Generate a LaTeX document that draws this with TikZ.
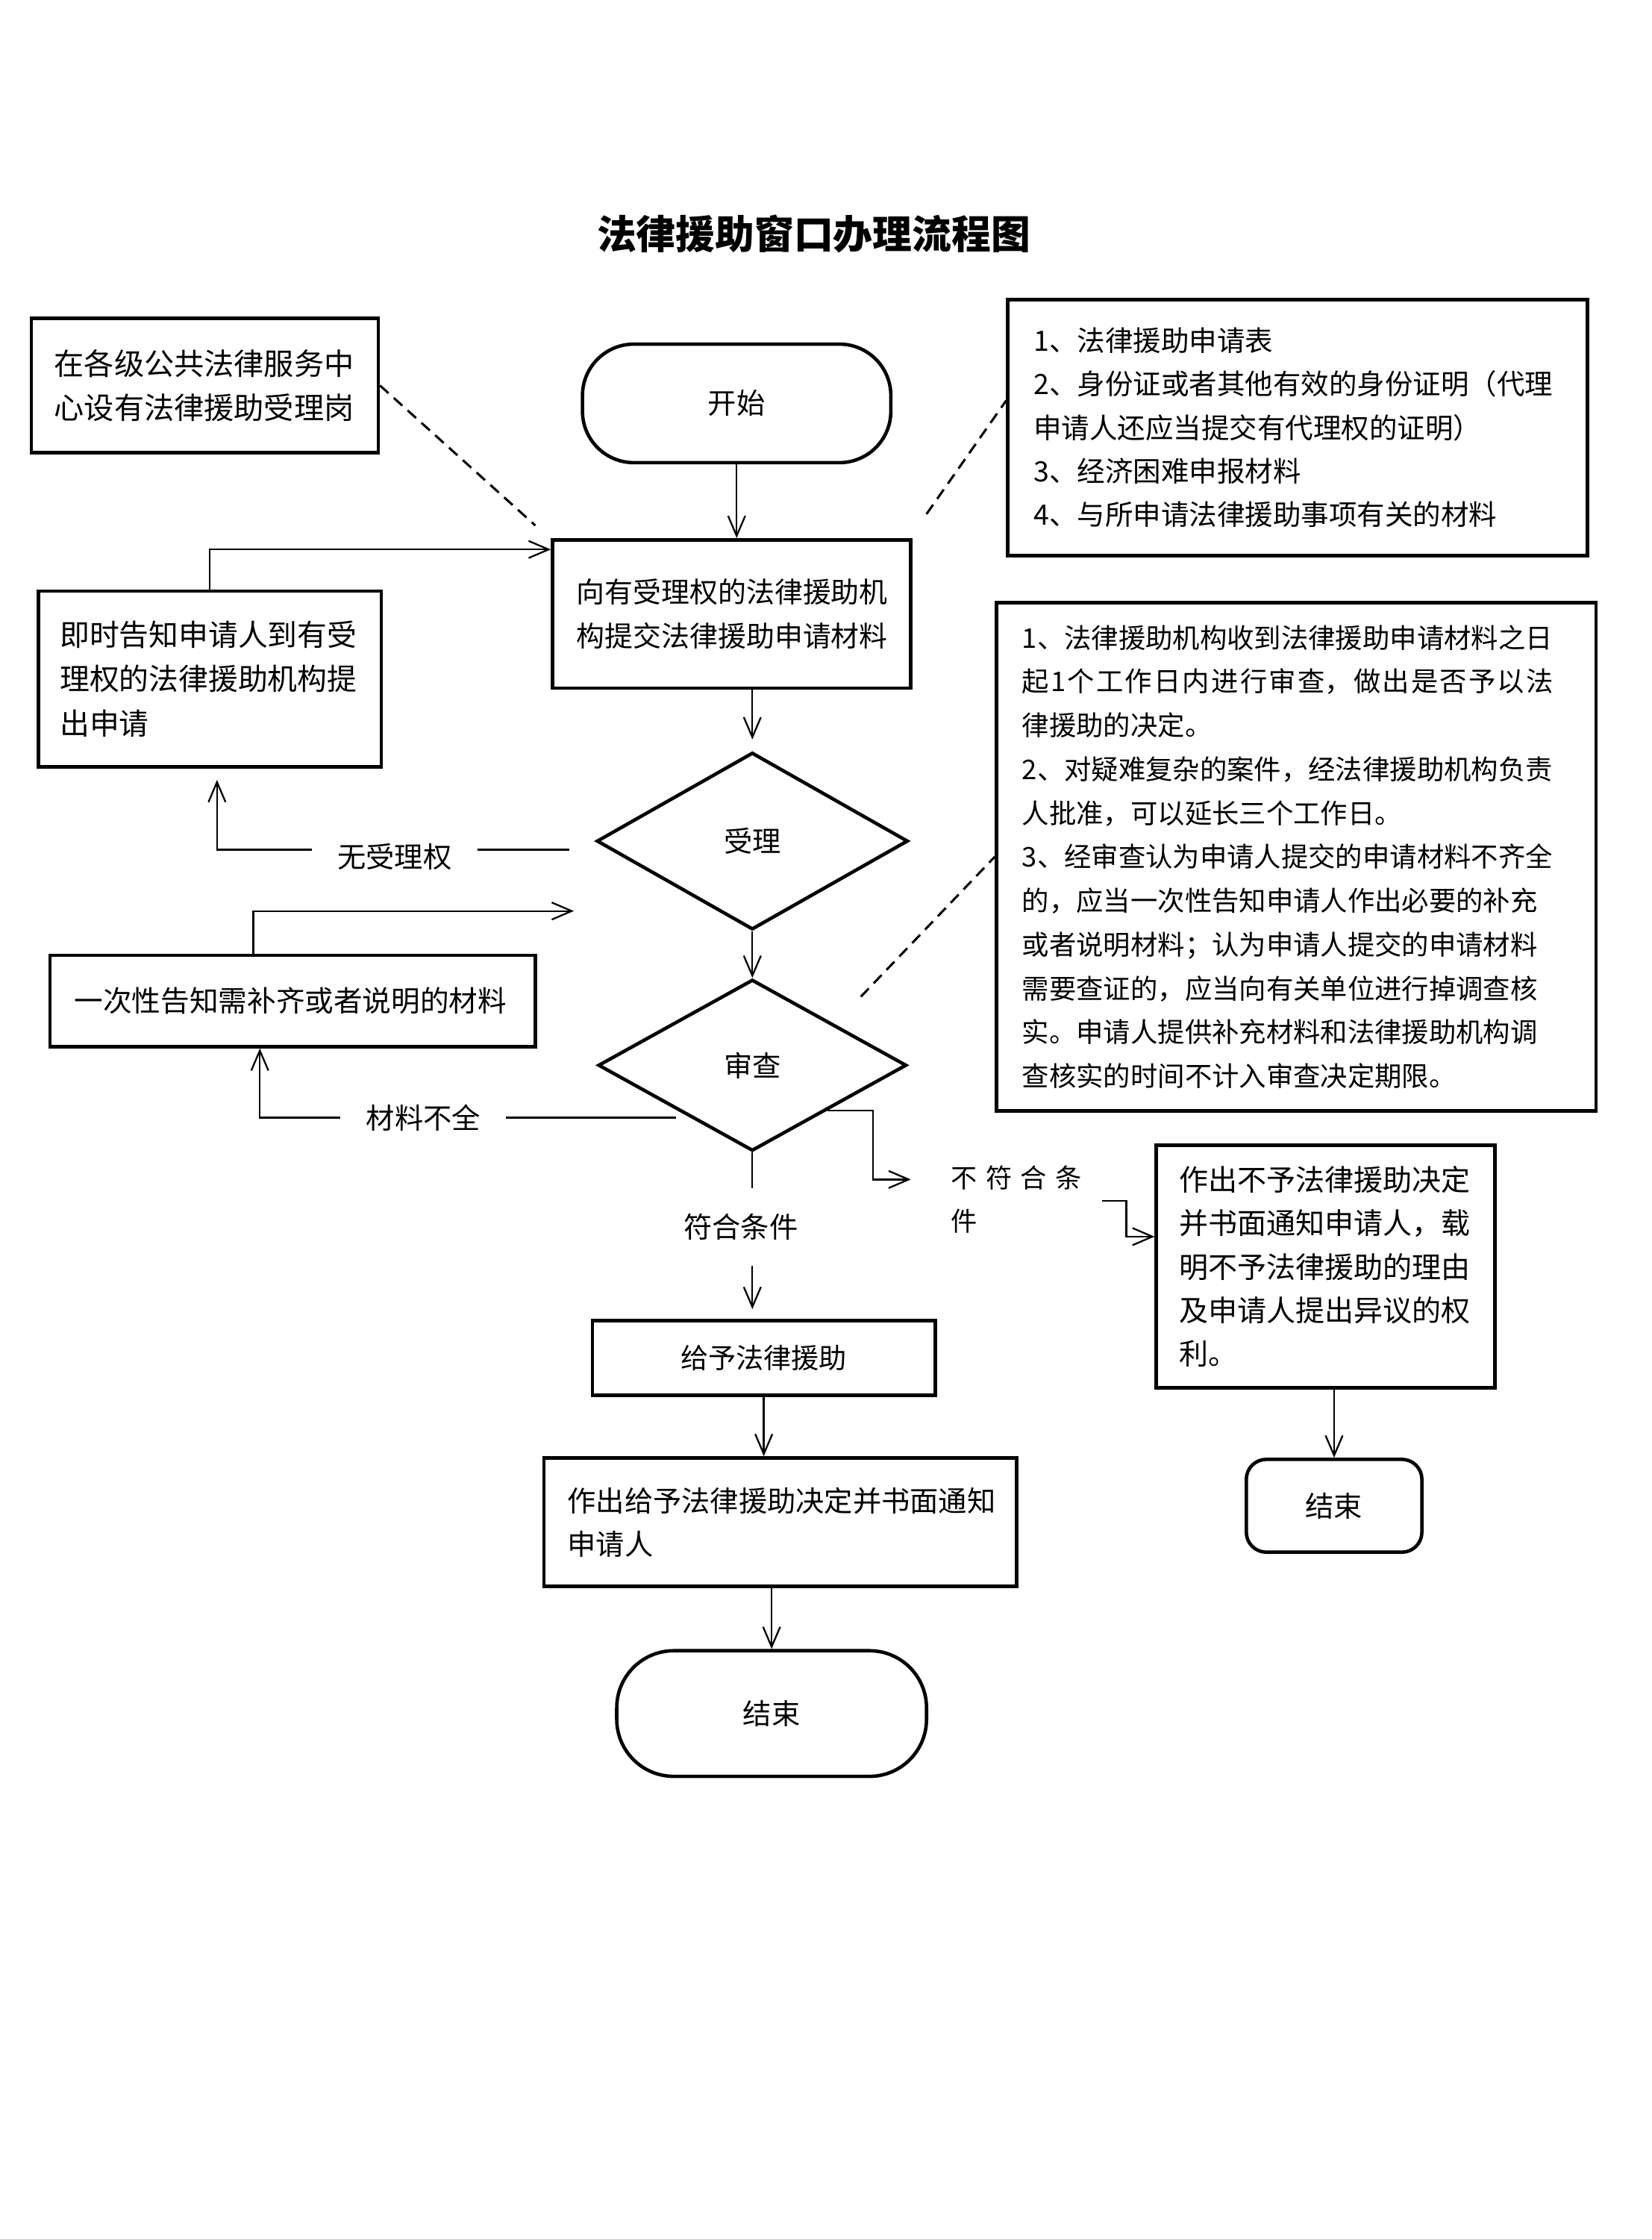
\documentclass[tikz,border=0pt]{standalone}
\usepackage{fontspec}
\setmainfont{Noto Sans CJK SC}
\usetikzlibrary{arrows.meta,shapes.geometric,calc}
\newcommand{\myfs}[2]{\fontsize{#1}{#2}\selectfont}
\begin{document}
\begin{tikzpicture}[x=0.5pt,y=-0.5pt,
  box/.style={draw,line width=1.2pt,inner ysep=0pt,align=left},
  term/.style={draw,line width=1.2pt,inner sep=0pt,font=\myfs{10pt}{12pt}},
  dia/.style={draw,diamond,line width=1.2pt,inner sep=0pt,font=\myfs{10pt}{12pt}},
  arr/.style={line width=0.6pt,-{Straight Barb[length=7pt,width=6pt]}},
  dashlink/.style={line width=0.8pt,dash pattern=on 4pt off 2.5pt},
  lbl/.style={fill=white,inner xsep=9pt,inner ysep=2pt,font=\myfs{10pt}{12pt}}]
\fill[white] (0,0) rectangle (1157,1568);
\useasboundingbox (0,0) rectangle (1157,1568);

% title
\node[font=\myfs{13.8pt}{16pt}\bfseries] (T) at (570,164) {法律援助窗口办理流程图};

% boxes
\node[box,inner xsep=8pt,text width=105.5pt,minimum height=47pt,font=\myfs{10.5pt}{15.25pt}] (A) at (143.5,270)
  {在各级公共法律服务中\\%
心设有法律援助受理岗};

\node[term,rounded corners=18pt,minimum width=108pt,minimum height=41.5pt] (B) at (516,282.5) {开始};

\node[box,inner xsep=9pt,text width=185pt,minimum height=89.5pt,font=\myfs{9.8pt}{15.25pt}] (C) at (909,299.5)
  {1、法律援助申请表\\%
2、身份证或者其他有效的身份证明（代理\\%
申请人还应当提交有代理权的证明）\\%
3、经济困难申报材料\\%
4、与所申请法律援助事项有关的材料};

\node[box,inner xsep=8.5pt,text width=108.5pt,minimum height=52pt,font=\myfs{9.9pt}{15.6pt}] (D) at (512.5,430)
  {向有受理权的法律援助机\\%
构提交法律援助申请材料};

\node[box,inner xsep=7.5pt,text width=105pt,minimum height=61.5pt,font=\myfs{10.4pt}{15.5pt}] (E) at (147,475.5)
  {即时告知申请人到有受\\%
理权的法律援助机构提\\%
出申请};

\node[dia,minimum width=109pt,minimum height=62pt] (F) at (527,589) {受理};
\node[dia,minimum width=108pt,minimum height=60pt] (G) at (527,746) {审查};

\node[box,inner xsep=8.5pt,text width=153pt,minimum height=32pt,font=\myfs{10.1pt}{12pt}] (H) at (205,701)
  {一次性告知需补齐或者说明的材料};

\node[box,inner xsep=9pt,text width=192pt,minimum height=178pt,font=\myfs{9.5pt}{15.35pt}] (I) at (908,600)
  {1、法律援助机构收到法律援助申请材料之日\\%
\makebox[186pt][l]{起\hfill 1\hfill 个\hfill 工\hfill 作\hfill 日\hfill 内\hfill 进\hfill 行\hfill 审\hfill 查，\hfill 做\hfill 出\hfill 是\hfill 否\hfill 予\hfill 以\hfill 法}\\%
律援助的决定。\\%
2、对疑难复杂的案件，经法律援助机构负责\\%
人批准，可以延长三个工作日。\\%
3、经审查认为申请人提交的申请材料不齐全\\%
的，应当一次性告知申请人作出必要的补充\\%
或者说明材料；认为申请人提交的申请材料\\%
需要查证的，应当向有关单位进行掉调查核\\%
实。申请人提供补充材料和法律援助机构调\\%
查核实的时间不计入审查决定期限。};

\node[box,inner xsep=8pt,text width=102.5pt,minimum height=85pt,font=\myfs{10.2pt}{15.25pt}] (J) at (928.5,887)
  {作出不予法律援助决定\\%
并书面通知申请人，载\\%
明不予法律援助的理由\\%
及申请人提出异议的权\\%
利。};

\node[box,align=center,minimum width=120pt,minimum height=26pt,font=\myfs{9.7pt}{12pt}] (K) at (535,951) {给予法律援助};

\node[box,inner xsep=8.25pt,text width=149pt,minimum height=45pt,font=\myfs{10pt}{15.25pt}] (L) at (546.5,1066)
  {作出给予法律援助决定并书面通知\\%
申请人};

\node[term,rounded corners=20pt,minimum width=108.5pt,minimum height=44pt] (M) at (540.5,1200) {结束};
\node[term,rounded corners=7pt,minimum width=61.5pt,minimum height=32.5pt] (N) at (934.5,1054.5) {结束};

% connectors
\draw[arr] (B.south) -- (B.south |- D.north);

\coordinate (dA) at (375,368);
\draw[dashlink] (A.east) -- (dA);
\coordinate (dC) at (649,360);
\draw[dashlink] (dC) -- ($(C.west)+(0,-19)$);
\coordinate (dI) at (603,698);
\draw[dashlink] (dI) -- (I.west);

\draw[arr] (E.north) |- ($(D.north west)+(0,8)$);
\draw[arr,shorten >=4pt] (F.north |- D.south) -- (F.north);

\coordinate (f1) at ($(F.west)+(0,6)$);
\coordinate (e1) at ($(E.south)+(5,0)$);
\draw[arr,shorten <=9pt,shorten >=4pt] (f1) -- node[lbl,pos=0.53,yshift=-2.5pt] {无受理权} (f1 -| e1) -- (e1);

\coordinate (h1) at (402,638);
\draw[arr] ($(H.north)+(-27.5,0)$) |- (h1);

\draw[arr] (F.south) -- (G.north);

\coordinate (g1) at ($(G.west)!0.6!(G.south)$);
\coordinate (h2) at ($(H.south)+(-23,0)$);
\draw[arr,shorten <=5pt] (g1) -- node[lbl,pos=0.62] {材料不全} (g1 -| h2) -- (h2);

\coordinate (g2) at ($(G.east)!0.52!(G.south)$);
\coordinate (n1) at (638,826);
\draw[arr] (g2) -- ++(32,0) |- (n1);
\node[align=left,inner sep=0pt,font=\myfs{9.2pt}{15pt}] (nlab) at (712,840) {不\hspace{3pt}符\hspace{3pt}合\hspace{3pt}条\\件};
\coordinate (n2) at (772,841);
\draw[arr] (n2) -- ++(17,0) |- ($(J.west)+(0,-21)$);

\draw[arr,shorten >=3.5pt] (G.south) -- node[lbl,pos=0.445,inner ysep=9pt,xshift=-4pt] {符合条件} (G.south |- K.north);

\draw[arr] (K.south) -- (K.south |- L.north);
\draw[arr] (M.north |- L.south) -- (M.north);
\draw[arr] (N.north |- J.south) -- (N.north);
\end{tikzpicture}
\end{document}
